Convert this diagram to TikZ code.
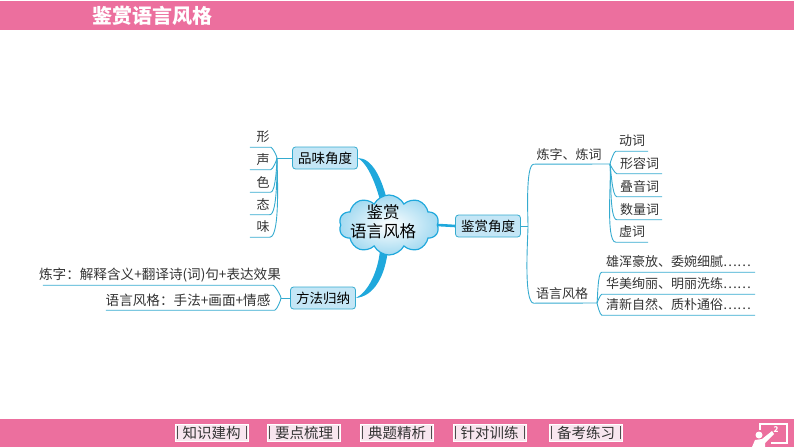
\documentclass[tikz,border=0pt]{standalone}
\usepackage{fontspec}
\setmainfont{Noto Sans CJK SC}
\usetikzlibrary{positioning, shapes.symbols, backgrounds}
\definecolor{barpink}{HTML}{EC6F9E}
\definecolor{btnfill}{HTML}{F8E6EF}
\definecolor{linkblue}{HTML}{35ABCF}
\definecolor{branchblue}{HTML}{1FA8DC}
\definecolor{boxfill}{HTML}{C4E6F6}
\definecolor{inkgrey}{HTML}{333333}

\begin{document}
\begin{tikzpicture}[
    x=1pt, y=-1pt,
    on grid,
    topic/.style={draw=linkblue, fill=boxfill, rounded corners=3pt, line width=0.8pt, minimum width=65pt, minimum height=22pt, inner sep=0pt, font=\fontsize{13.5}{16}\selectfont},
    leaf/.style={minimum height=20pt, inner sep=0pt, text=inkgrey, font=\fontsize{13}{15}\selectfont},
    link/.style={draw=linkblue, line width=0.9pt, looseness=0.35},
    branch/.style={fill=branchblue},
    navbtn/.style={draw=white, line width=0.8pt, fill=btnfill, minimum width=73pt, minimum height=17pt, inner sep=0pt, text=inkgrey, font=\fontsize{14.5}{15}\selectfont,
        path picture={\draw[black!70, line width=0.8pt]
            ([xshift=2pt,yshift=2pt]path picture bounding box.south west) -- ([xshift=2pt,yshift=-2pt]path picture bounding box.north west)
            ([xshift=-2pt,yshift=2pt]path picture bounding box.south east) -- ([xshift=-2pt,yshift=-2pt]path picture bounding box.north east);}}
]
   \useasboundingbox (0,0) rectangle (794,447);

   % Bars
   \fill[barpink] (0,1) rectangle (794,30);
   \fill[barpink] (0,419) rectangle (794,447);
   \node[text=white, font=\fontsize{20}{24}\selectfont\bfseries] (title) at (152,16) {鉴赏语言风格};

   % Centre
   \node[cloud, cloud puffs=10, cloud puff arc=125, aspect=1.7, minimum width=100pt, minimum height=60pt, draw=branchblue, line width=1.2pt, inner color=white, outer color=boxfill!80!branchblue, inner sep=0pt] (yun) at (389,225) {};
   \node[align=center, inner sep=0pt, font=\fontsize{16.5}{19}\selectfont] (yuntext) at (383,222) {鉴赏\\语言风格};

   % Topics
   \node[topic] (pinwei) at (325,158) {品味角度};
   \node[topic] (fangfa) at (323,298) {方法归纳};
   \node[topic] (jianshang) at (488,226) {鉴赏角度};

   % Left leaves
   \node[leaf, minimum width=26pt] (xing) at (263,137) {形};
   \node[leaf, minimum width=26pt] (sheng) [below=22.5pt of xing] {声};
   \node[leaf, minimum width=26pt] (se) [below=22.5pt of sheng] {色};
   \node[leaf, minimum width=26pt] (tai) [below=22.5pt of se] {态};
   \node[leaf, minimum width=26pt] (wei) [below=22.5pt of tai] {味};
   \coordinate (pinJ) at (277,158);

   \node[leaf, minimum width=246pt, font=\fontsize{13.6}{15}\selectfont] (lianzifa) at (160,275) {炼字：解释含义+翻译诗(词)句+表达效果};
   \node[leaf, minimum width=170pt, font=\fontsize{13.6}{15}\selectfont] (yuyanfa) at (188,300) {语言风格：手法+画面+情感};
   \coordinate (fangJ) at (281,298);

   % Right leaves
   \node[leaf, minimum width=70pt, minimum height=18pt] (lianzi) at (569,155) {炼字、炼词};
   \node[leaf, minimum width=56pt, minimum height=18pt] (yuyan) at (562,294) {语言风格};
   \coordinate (jianJ) at (528,226);
   \coordinate (lianJ) at (610,164);
   \coordinate (yuyanJ) at (597,303);

   \node[leaf, minimum width=32pt] (dongci) at (632,141) {动词};
   \node[leaf, minimum width=45pt] (xingrong) at (639.5,163.5) {形容词};
   \node[leaf, minimum width=45pt] (dieyin) [below=23pt of xingrong] {叠音词};
   \node[leaf, minimum width=45pt] (shuliang) [below=23pt of dieyin] {数量词};
   \node[leaf, minimum width=32pt] (xuci) at (632,232) {虚词};

   \node[leaf, minimum width=153pt] (xionghun) at (678.5,262) {雄浑豪放、委婉细腻……};
   \node[leaf, minimum width=153pt] (huamei) at (678.5,284) {华美绚丽、明丽洗练……};
   \node[leaf, minimum width=153pt] (qingxin) at (678.5,305) {清新自然、质朴通俗……};

   % Connectors
   \begin{scope}[on background layer]
   \fill[branch] (pinwei.east) .. controls (372,158) and (382,178) .. (388,204) -- (381,204) .. controls (376,184) and (368,164) .. (pinwei.east);
   \fill[branch] (fangfa.east) .. controls (375,296) and (385,275) .. (388,250) -- (380,250) .. controls (378,272) and (368,292) .. (fangfa.east);
   \draw[draw=branchblue, line width=2.6pt] (yun.east) -- (jianshang.west);
   \end{scope}

   \draw[link] (pinwei.west) -- (pinJ);
   \draw[link] (xing.south west) -- ++(21,0) to[out=0,in=90] (pinJ);
   \draw[link] (sheng.south west) -- ++(21,0) to[out=0,in=-90] (pinJ);
   \draw[link] (se.south west) -- ++(21,0) to[out=0,in=-90] (pinJ);
   \draw[link] (tai.south west) -- ++(20,0) to[out=0,in=-90] (pinJ);
   \draw[link] (wei.south west) -- ++(20,0) to[out=0,in=-90] (pinJ);

   \draw[link] (fangfa.west) -- (fangJ);
   \draw[link] ([xshift=6pt]lianzifa.south west) -- ++(230,0) to[out=0,in=90] (fangJ);
   \draw[link] ([xshift=3pt]yuyanfa.south west) -- ++(169,0) to[out=0,in=-90] (fangJ);

   \draw[link] (jianshang.east) -- (jianJ);
   \draw[link] (lianJ) -- (lianzi.south west) to[out=180,in=90] (jianJ);
   \draw[link] (yuyanJ) -- (yuyan.south west) to[out=180,in=-90] (jianJ);

   \draw[link] (dongci.south east) -- (dongci.south west) to[out=180,in=80] (lianJ);
   \draw[link] (xingrong.south east) -- (xingrong.south west) to[out=180,in=-80] (lianJ);
   \draw[link] (dieyin.south east) -- (dieyin.south west) to[out=180,in=-80] (lianJ);
   \draw[link] (shuliang.south east) -- (shuliang.south west) to[out=180,in=-80] (lianJ);
   \draw[link] (xuci.south east) -- (xuci.south west) to[out=180,in=-80] (lianJ);

   \draw[link] (xionghun.south east) -- (xionghun.south west) to[out=180,in=80] (yuyanJ);
   \draw[link] (huamei.south east) -- (huamei.south west) to[out=180,in=70] (yuyanJ);
   \draw[link] (qingxin.south east) -- (qingxin.south west) to[out=180,in=-80] (yuyanJ);

   % Buttons
   \node[navbtn] (zhishi) at (211.5,432.5) {知识建构};
   \node[navbtn] (yaodian) [right=92.5pt of zhishi] {要点梳理};
   \node[navbtn] (dianti) [right=93pt of yaodian] {典题精析};
   \node[navbtn] (zhendui) [right=92.5pt of dianti] {针对训练};
   \node[navbtn] (beikao) [right=96.5pt of zhendui] {备考练习};

   % Board icon
   \draw[white, line width=1.4pt] (760,430) -- (760,424) -- (787,424) -- (787,443) -- (771,443);
   \fill[white] (759,435) circle (3.5);
   \fill[white] (752,447) -- (755,440) -- (762,439) -- (772,431) -- (774,434) -- (765,443) -- (765,447) -- cycle;
   \node[text=white, inner sep=0pt, font=\fontsize{8}{9}\selectfont\bfseries] (yeshu) at (776,430) {2};
\end{tikzpicture}
\end{document}
